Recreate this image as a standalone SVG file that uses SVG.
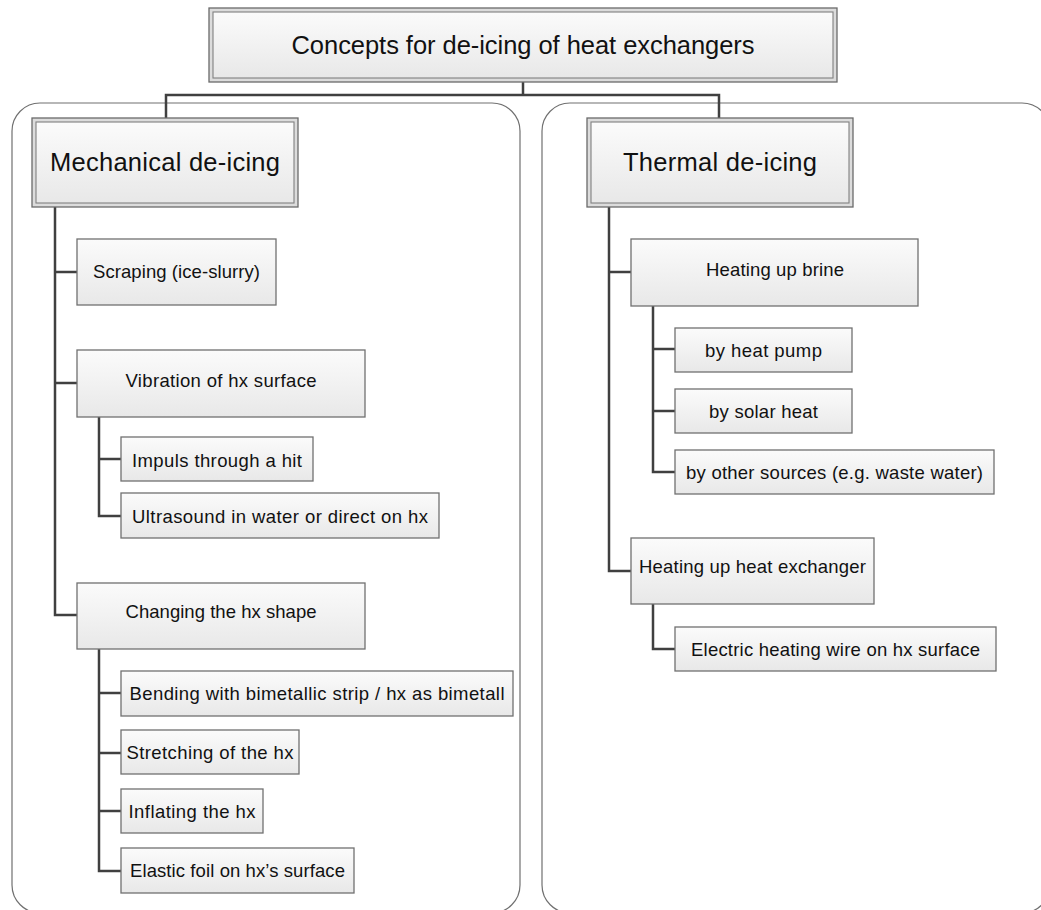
<svg xmlns="http://www.w3.org/2000/svg" width="1041" height="910" viewBox="0 0 1041 910">
<defs>
<linearGradient id="g" x1="0" y1="0" x2="0" y2="1">
<stop offset="0" stop-color="#fbfbfb"/>
<stop offset="1" stop-color="#e8e8e8"/>
</linearGradient>
</defs>
<style>
.cont{fill:none;stroke:#707070;stroke-width:1.2}
.box{fill:url(#g);stroke:#707070;stroke-width:1.3}
.outer{fill:#dcdcdc;stroke:#6a6a6a;stroke-width:1.3}
.inner{fill:url(#g);stroke:#808080;stroke-width:1.1}
.t{font-family:"Liberation Sans",Arial,sans-serif;font-size:18.5px;fill:#111;text-anchor:middle}
.h{font-family:"Liberation Sans",Arial,sans-serif;font-size:25.5px;fill:#111;text-anchor:middle}
.c{fill:none;stroke:#404040;stroke-width:2.5}
</style>
<rect width="1041" height="910" fill="#fff"/>
<g id="containers">
<rect class="cont" x="12" y="103" width="508" height="810" rx="28"/>
<rect class="cont" x="542" y="103" width="508" height="810" rx="28"/>
</g>
<g id="connectors">
<path class="c" d="M523,82 V95 M166,118 V95 H719 V118"/>
<path class="c" d="M55,207 V615 H77 M55,272 H77 M55,383 H77"/>
<path class="c" d="M99,417 V516 H121 M99,459 H121"/>
<path class="c" d="M99,649 V871 H121 M99,693 H121 M99,753 H121 M99,811 H121"/>
<path class="c" d="M609,207 V571 H631 M609,272 H631"/>
<path class="c" d="M653,306 V472 H675 M653,349 H675 M653,411 H675"/>
<path class="c" d="M653,604 V649 H675"/>
</g>
<g id="title">
<rect class="outer" x="209" y="8" width="628" height="74"/>
<rect class="inner" x="213" y="12" width="620" height="66"/>
<text class="h" x="523" y="54" textLength="463">Concepts for de-icing of heat exchangers</text>
</g>
<g id="mechanical">
<rect class="outer" x="32" y="118" width="266" height="89"/>
<rect class="inner" x="36" y="122" width="258" height="81"/>
<text class="h" x="165" y="171" textLength="230">Mechanical de-icing</text>
</g>
<g id="thermal">
<rect class="outer" x="587" y="118" width="266" height="89"/>
<rect class="inner" x="591" y="122" width="258" height="81"/>
<text class="h" x="720" y="171" textLength="194">Thermal de-icing</text>
</g>
<g id="scraping">
<rect class="box" x="77" y="239" width="199" height="66"/>
<text class="t" x="176.5" y="278" textLength="167">Scraping (ice-slurry)</text>
</g>
<g id="vibration">
<rect class="box" x="77" y="350" width="288" height="67"/>
<text class="t" x="221" y="387" textLength="191">Vibration of hx surface</text>
</g>
<g id="impuls">
<rect class="box" x="121" y="437" width="192" height="44"/>
<text class="t" x="217" y="467" textLength="170">Impuls through a hit</text>
</g>
<g id="ultrasound">
<rect class="box" x="121" y="493" width="318" height="45"/>
<text class="t" x="280" y="523" textLength="296">Ultrasound in water or direct on hx</text>
</g>
<g id="changing">
<rect class="box" x="77" y="583" width="288" height="66"/>
<text class="t" x="221" y="618" textLength="191">Changing the hx shape</text>
</g>
<g id="bending">
<rect class="box" x="121" y="671" width="392" height="45"/>
<text class="t" x="317" y="700" textLength="375">Bending with bimetallic strip / hx as bimetall</text>
</g>
<g id="stretching">
<rect class="box" x="121" y="730" width="178" height="44"/>
<text class="t" x="210" y="759" textLength="167">Stretching of the hx</text>
</g>
<g id="inflating">
<rect class="box" x="121" y="789" width="142" height="44"/>
<text class="t" x="192" y="818" textLength="127">Inflating the hx</text>
</g>
<g id="elastic">
<rect class="box" x="121" y="848" width="233" height="45"/>
<text class="t" x="237.5" y="877" textLength="215">Elastic foil on hx’s surface</text>
</g>
<g id="brine">
<rect class="box" x="631" y="239" width="287" height="67"/>
<text class="t" x="775" y="276" textLength="138">Heating up brine</text>
</g>
<g id="heatpump">
<rect class="box" x="675" y="328" width="177" height="44"/>
<text class="t" x="763.5" y="357" textLength="117">by heat pump</text>
</g>
<g id="solar">
<rect class="box" x="675" y="389" width="177" height="44"/>
<text class="t" x="763.5" y="418" textLength="109">by solar heat</text>
</g>
<g id="other">
<rect class="box" x="675" y="450" width="319" height="44"/>
<text class="t" x="834.5" y="479" textLength="297">by other sources (e.g. waste water)</text>
</g>
<g id="heatingHx">
<rect class="box" x="631" y="538" width="243" height="66"/>
<text class="t" x="752.5" y="573" textLength="227">Heating up heat exchanger</text>
</g>
<g id="electric">
<rect class="box" x="675" y="627" width="321" height="44"/>
<text class="t" x="835.5" y="656" textLength="289">Electric heating wire on hx surface</text>
</g>
</svg>
